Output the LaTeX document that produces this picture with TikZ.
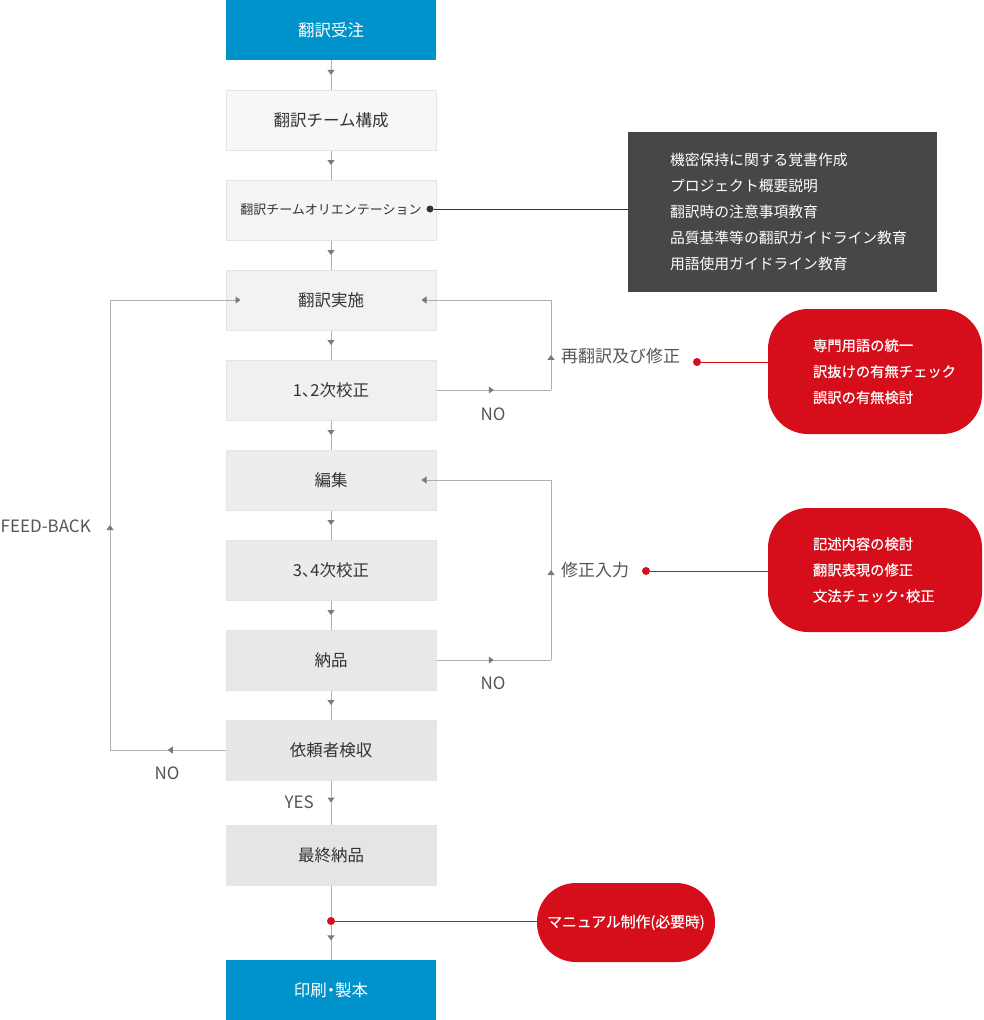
\documentclass[tikz,border=0pt]{standalone}
\usepackage{fontspec}
\setmainfont{Noto Sans CJK JP}
\newfontfamily\pfont[RawFeature=+palt]{Noto Sans CJK JP}
\newfontfamily\mfont[FakeBold=0.6]{Noto Sans CJK JP}
\usetikzlibrary{arrows.meta,decorations.markings}
\definecolor{blu}{HTML}{0093CB}
\definecolor{redc}{HTML}{D60D1A}
\definecolor{memoc}{HTML}{474747}
\definecolor{linec}{HTML}{AFAFAF}
\definecolor{arrc}{HTML}{7A7A7A}
\definecolor{txtc}{HTML}{333333}
\definecolor{labc}{HTML}{555555}
\definecolor{edgec}{HTML}{E4E4E4}

\begin{document}
\begin{tikzpicture}[x=1pt,y=-1pt,
	stepbox/.style={minimum width=210pt,minimum height=60pt,inner sep=0pt,text=txtc,font=\fontsize{16.5}{16.5}\selectfont},
	gbox/.style={stepbox,draw=edgec,line width=1pt,fill=#1},
	bbox/.style={stepbox,fill=blu,text=white},
	conn/.style={draw=linec,line width=1pt},
	midarr/.style={postaction={decorate},decoration={markings,mark=at position #1 with {\arrow{Triangle[width=7pt,length=5pt,color=arrc]}}}},
	midarr/.default=0.5,
	endarr/.style={-{Triangle[width=7pt,length=5pt,color=arrc]},shorten >=-15pt},
	lab/.style={text=labc,font=\fontsize{17}{17}\selectfont,inner sep=0pt},
	redbox/.style={fill=redc,text=white,rounded corners=40pt,align=left,font=\fontsize{14.3}{26}\mfont},
	dot/.style={circle,fill=#1,inner sep=0pt,minimum size=8pt}]
	\useasboundingbox (0,0) rectangle (983,1020);
	\node[bbox] (n1)at(331,30) {翻訳受注};
	\node[gbox=white!97!black] (n2)at(331,120) {翻訳チーム構成};
	\node[gbox=white!96!black,font=\fontsize{13}{13}\selectfont] (n3)at(331,210) {翻訳チームオリエンテーション};
	\node[gbox=white!95!black] (n4)at(331,300) {翻訳実施};
	\node[gbox=white!94!black] (n5)at(331,390) {\pfont 1、2次校正};
	\node[gbox=white!93!black] (n6)at(331,480) {編集};
	\node[gbox=white!92!black] (n7)at(331,570) {\pfont 3、4次校正};
	\node[gbox=white!91!black] (n8)at(331,660) {納品};
	\node[gbox=white!90.5!black] (n9)at(331,750) {依頼者検収};
	\node[gbox=white!90!black] (n10)at(331,855) {最終納品};
	\node[bbox] (n11)at(331,990) {\pfont 印刷・製本};

	\foreach \a/\b in {n1/n2,n2/n3,n3/n4,n4/n5,n5/n6,n6/n7,n7/n8,n8/n9,n9/n10}
		\draw[conn,midarr] (\a) -- (\b);
	\coordinate (bd) at (331,921);
	\draw[conn] (n10) -- (bd);
	\draw[conn,midarr] (bd) -- (n11);

	\coordinate (r1a) at (551,390);
	\coordinate (r1b) at (551,300);
	\draw[conn,midarr] (n5.east) -- (r1a);
	\draw[conn,midarr=0.39] (r1a) -- (r1b);
	\draw[conn,endarr] (r1b) -- (n4.east);
	\node[lab] (no1)at(493,414) {NO};
	\node[lab,anchor=west] (re1)at(561,356) {再翻訳及び修正};

	\coordinate (r2a) at (551,660);
	\coordinate (r2b) at (551,480);
	\draw[conn,midarr] (n8.east) -- (r2a);
	\draw[conn,midarr] (r2a) -- (r2b);
	\draw[conn,endarr] (r2b) -- (n6.east);
	\node[lab] (no2)at(493,683) {NO};
	\node[lab,anchor=west] (re2)at(561,570) {修正入力};

	\coordinate (fba) at (110,750);
	\coordinate (fbb) at (110,300);
	\draw[conn,midarr] (n9.west) -- (fba);
	\draw[conn,midarr] (fba) -- (fbb);
	\draw[conn,endarr] (fbb) -- (n4.west);
	\node[lab] (no3)at(167,773) {NO};
	\node[lab,anchor=east] (fb)at(91,526) {FEED-BACK};
	\node[lab,anchor=east] (yes)at(314,802) {YES};

	\node[fill=memoc,text=white,align=left,text width=225pt,inner xsep=42pt,minimum height=160pt,font=\fontsize{14.8}{26}\selectfont] (memo)at(782.5,212) {機密保持に関する覚書作成\\プロジェクト概要説明\\翻訳時の注意事項教育\\品質基準等の翻訳ガイドライン教育\\用語使用ガイドライン教育};
	\node[dot=txtc,minimum size=7pt] (od)at(430,209) {};
	\draw[txtc,line width=1pt] (od) -- (od -| memo.west);

	\node[redbox,text width=124pt,minimum width=214pt,minimum height=125pt] (red1)at(875,371.5) {専門用語の統一\\訳抜けの有無チェック\\誤訳の有無検討};
	\node[dot=redc] (rd1)at(697,362) {};
	\draw[redc,line width=1pt] (rd1) -- (rd1 -| red1.west);

	\node[redbox,text width=124pt,minimum width=214pt,minimum height=124pt] (red2)at(875,570) {記述内容の検討\\翻訳表現の修正\\文法チェック{\pfont ・}校正};
	\node[dot=redc] (rd2)at(646,571) {};
	\draw[redc,line width=1pt] (rd2) -- (rd2 -| red2.west);

	\node[redbox,rounded corners=39pt,minimum width=178pt,minimum height=79pt,inner sep=0pt,font=\fontsize{14.8}{16}\mfont] (red3)at(626,922.5) {マニュアル制作(必要時)};
	\node[dot=redc] (rd3)at(bd) {};
	\draw[redc,line width=1pt] (rd3) -- (rd3 -| red3.west);
\end{tikzpicture}
\end{document}
